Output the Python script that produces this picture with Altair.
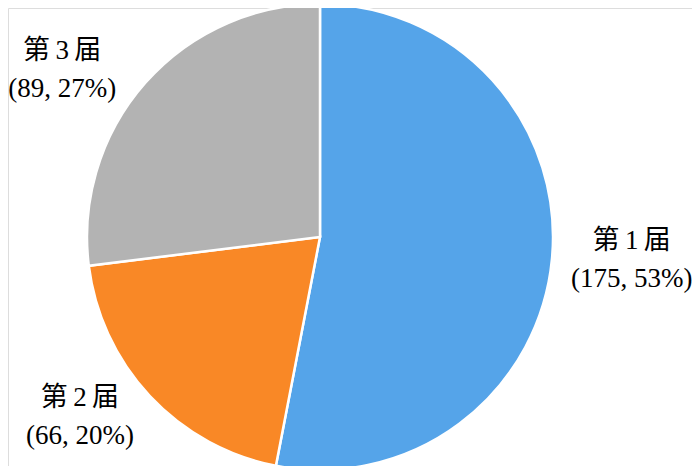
import altair as alt
import pandas as pd

categories = ["第1届", "第2届", "第3届"]
values = [175, 66, 89]
percents = ["53%", "20%", "27%"]
colors = ["#55A4E9", "#F98826", "#B3B3B3"]

def spaced(c):
    return c[0] + "\u2009" + c[1:-1] + "\u2009" + c[-1]

df = pd.DataFrame({
    "cat": categories,
    "value": values,
    "order": [0, 1, 2],
    "label": [f"{spaced(c)}\n({v}, {p})" for c, v, p in zip(categories, values, percents)],
})

CX, CY = 312, 229

base = alt.Chart(df).encode(
    theta=alt.Theta("value:Q", stack=True),
    order=alt.Order("order:Q"),
    x=alt.value(CX),
    y=alt.value(CY),
)

pie = base.mark_arc(outerRadius=233, stroke="white", strokeWidth=2.5).encode(
    color=alt.Color("cat:N", scale=alt.Scale(domain=categories, range=colors), legend=None)
)

offsets = {"第1届": (13, -25), "第2届": (-21, -44), "第3届": (-33, 13)}
layers = [pie]
for c in categories:
    dx, dy = offsets[c]
    t = base.mark_text(
        radius=300, fontSize=27, lineBreak="\n", lineHeight=38, dx=dx, dy=dy,
        font="'Times New Roman', 'Liberation Serif', 'Noto Sans CJK SC'", color="#000000",
        align="center", baseline="middle"
    ).encode(
        text="label:N",
        opacity=alt.condition(alt.datum.cat == c, alt.value(1), alt.value(0)),
    )
    layers.append(t)

chart = alt.layer(*layers).properties(
    width=684, height=458, padding=0, autosize=alt.AutoSizeParams(type="none")
).configure_view(stroke=None).configure(background="white")

chart.save("out.html", embed_options={"renderer": "svg", "actions": False})
